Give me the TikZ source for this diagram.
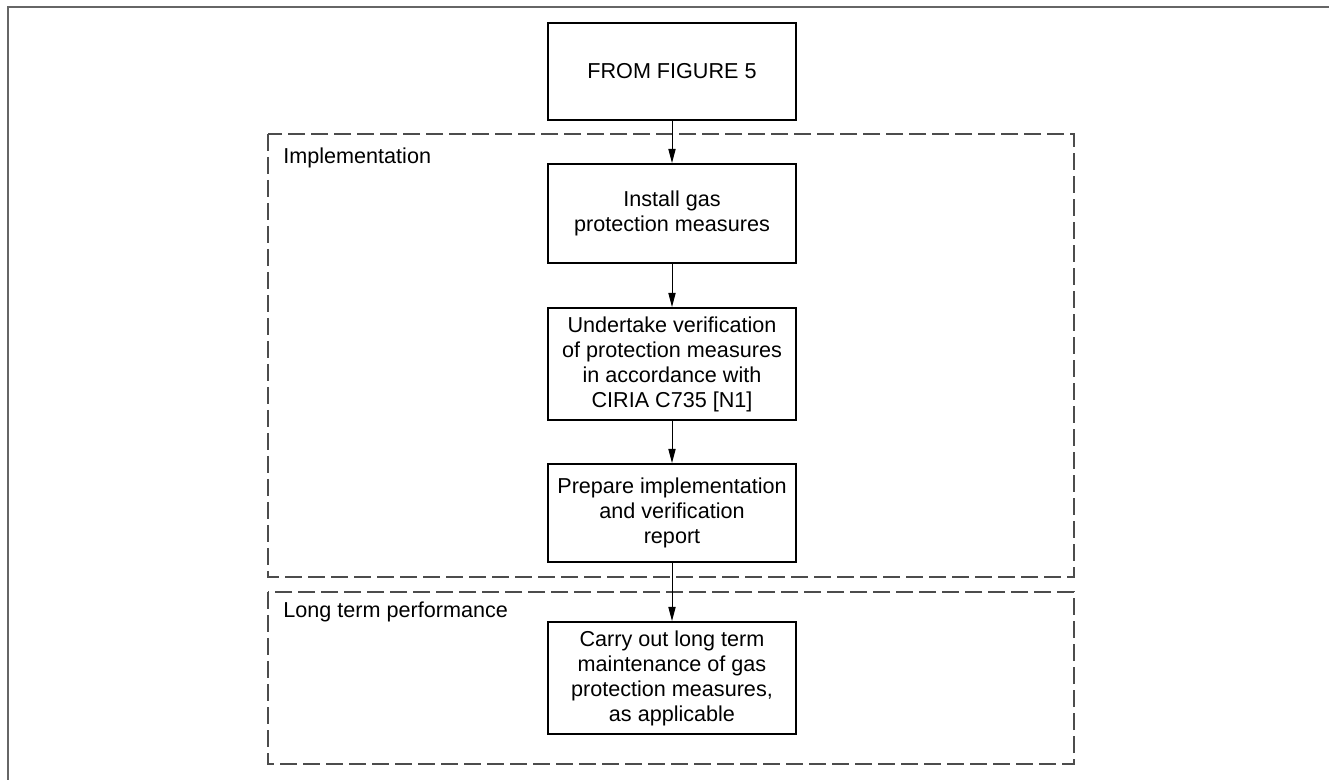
\documentclass[tikz,border=0pt]{standalone}
\usepackage{fontspec}
\setmainfont{Liberation Sans}
\usetikzlibrary{arrows.meta}
\tikzset{
  stepbox/.style={draw=black, line width=1pt, minimum width=124pt, align=center,
    inner sep=2pt, font=\fontsize{10.8}{12.5}\selectfont},
  stage/.style={draw=black!70, line width=0.75pt, dash pattern=on 8.5pt off 3pt},
  stagelabel/.style={anchor=west, inner sep=0pt, font=\fontsize{10.8}{12.5}\selectfont},
  flow/.style={-{Triangle[length=7pt,width=3.6pt]}, line width=0.5pt},
}
\begin{document}
\begin{tikzpicture}[x=0.5pt,y=-0.5pt]
  \useasboundingbox (0,0) rectangle (1329,780);
  \draw[black!60, line width=0.6pt] (1329,7) -- (8,7) -- (8,780);
  % stages
  \draw[stage] (268,134) rectangle (1074,577);
  \draw[stage] (268,592) rectangle (1074,764);
  \node[stagelabel] (implabel) at (283,158) {Implementation};
  \node[stagelabel] (perflabel) at (283,612) {Long term performance};
  % steps
  \node[stepbox, minimum height=48.5pt] (fig5) at (672,71.5) {FROM FIGURE 5};
  \node[stepbox, minimum height=49.5pt] (install) at (672,213.5) {Install gas\\protection measures};
  \node[stepbox, minimum height=56pt] (verify) at (672,364) {Undertake verification\\of protection measures\\in accordance with\\CIRIA C735 [N1]};
  \node[stepbox, minimum height=49pt] (report) at (672,513) {Prepare implementation\\and verification\\report};
  \node[stepbox, minimum height=56pt] (maint) at (672,678) {Carry out long term\\maintenance of gas\\protection measures,\\as applicable};
  \foreach \a/\b in {fig5/install,install/verify,verify/report,report/maint}
    \draw[flow] (\a) -- (\b);
\end{tikzpicture}
\end{document}
